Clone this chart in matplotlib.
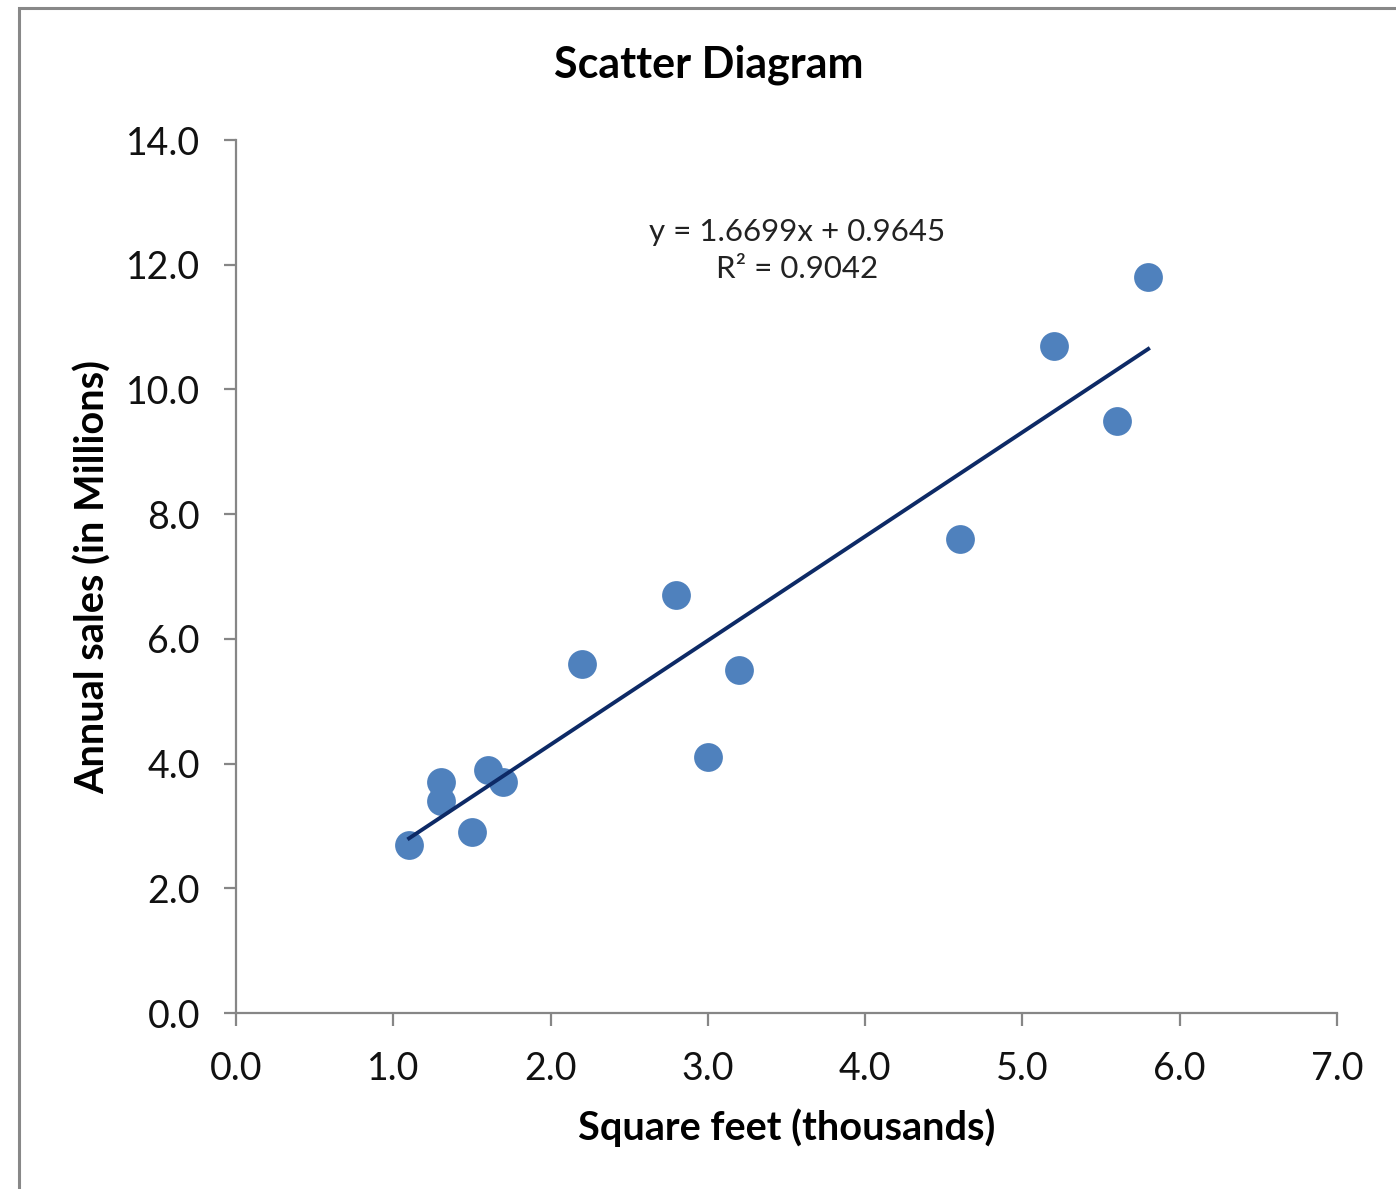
import numpy as np
import matplotlib.pyplot as plt
from matplotlib.patches import Rectangle

plt.rcParams['font.family'] = ['Lato', 'DejaVu Sans']

# store size (thousands sq ft) vs annual sales (millions)
sq_feet = [1.1, 1.3, 1.3, 1.5, 1.6, 1.7, 2.2, 2.8, 3.0, 3.2, 4.6, 5.2, 5.6, 5.8]
sales = [2.7, 3.7, 3.4, 2.9, 3.9, 3.7, 5.6, 6.7, 4.1, 5.5, 7.6, 10.7, 9.5, 11.8]
slope, intercept = 1.6699, 0.9645
r2 = 0.9042
x_ticks = [0, 1, 2, 3, 4, 5, 6, 7]
y_ticks = [0, 2, 4, 6, 8, 10, 12, 14]

fig = plt.figure(figsize=(13.96, 11.89), dpi=100)
ax = fig.add_axes([0.1691, 0.1480, 0.7886, 0.7342])

# outer chart border (only left/top visible in the crop)
fig.patches.append(Rectangle((19 / 1396, -0.05), 1.2, 1 - 8 / 1189 + 0.05,
                             transform=fig.transFigure, fill=False,
                             edgecolor='#888888', linewidth=2.2))

ax.scatter(sq_feet, sales, s=430, color='#4F81BD', zorder=2, linewidths=0)
xs = np.array([min(sq_feet), max(sq_feet)])
ax.plot(xs, slope * xs + intercept, color='#0D2A66', linewidth=2.8, zorder=3)

ax.text(3.57, 12.23, 'y = %.4fx + %.4f\nR² = %.4f' % (slope, intercept, r2),
        ha='center', va='center', fontsize=22.5, color='#222222', linespacing=1.4)

ax.set_xlim(0, 7)
ax.set_ylim(0, 14)
ax.set_xticks(x_ticks)
ax.set_yticks(y_ticks)
ax.set_xticklabels(['%.1f' % v for v in x_ticks])
ax.set_yticklabels(['%.1f' % v for v in y_ticks])

for s in ['top', 'right']:
    ax.spines[s].set_visible(False)
for s in ['left', 'bottom']:
    ax.spines[s].set_color('#868686')
    ax.spines[s].set_linewidth(1.6)
ax.tick_params(axis='both', direction='out', length=9, width=1.6,
               color='#868686', labelsize=27, labelcolor='#111111')
ax.tick_params(axis='y', pad=17)
ax.tick_params(axis='x', pad=18)

fig.text(709 / 1396, 1 - 65 / 1189, 'Scatter Diagram', fontsize=31,
         fontweight='bold', ha='center', va='center')
ax.set_xlabel('Square feet (thousands)', fontsize=28.5, fontweight='bold', labelpad=16)
ax.set_ylabel('Annual sales (in Millions)', fontsize=28.5, fontweight='bold', labelpad=10)

plt.savefig('out.png', dpi=100)
